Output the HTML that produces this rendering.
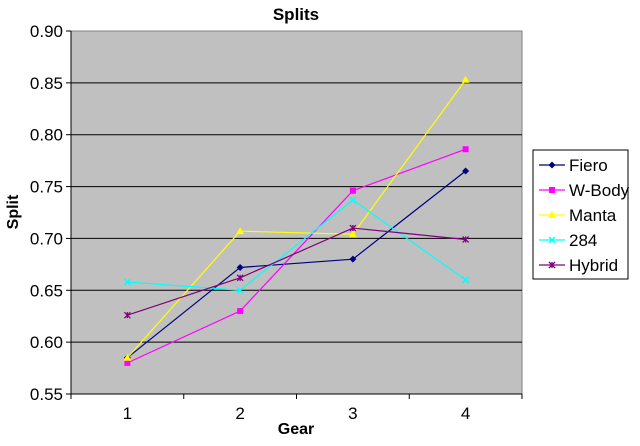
<!DOCTYPE html>
<html><head><meta charset="utf-8"><style>
body{margin:0;background:#fff;font-family:"Liberation Sans",Arial,sans-serif}
</style></head><body>
<svg id="chart" width="640" height="441" xmlns="http://www.w3.org/2000/svg" font-family="Liberation Sans, Arial, sans-serif">
<rect width="640" height="441" fill="#fff"/>
<text x="296" y="20" text-anchor="middle" font-size="17" font-weight="bold">Splits</text>
<rect x="71" y="31" width="451" height="363" fill="#c0c0c0" stroke="#808080"/>
<g id="grid"></g><g id="axes"></g><g id="series"></g>
<text x="296" y="434" text-anchor="middle" font-size="16" font-weight="bold">Gear</text>
<text transform="translate(18,212) rotate(-90)" text-anchor="middle" font-size="16" font-weight="bold">Split</text>
<g id="legend">
<rect x="533" y="150" width="95" height="129" fill="#fff" stroke="#000"/>
</g>
</svg>
<script>
const categories=["1","2","3","4"];
const yTicks=[0.55,0.60,0.65,0.70,0.75,0.80,0.85,0.90];
const seriesNames=["Fiero","W-Body","Manta","284","Hybrid"];
const fieroValues=[0.585,0.672,0.680,0.765];
const wbodyValues=[0.580,0.630,0.746,0.786];
const mantaValues=[0.585,0.707,0.704,0.853];
const v284Values=[0.658,0.650,0.737,0.660];
const hybridValues=[0.626,0.662,0.710,0.699];
const colors=["#000080","#ff00ff","#ffff00","#00ffff","#800080"];
const markers=["diamond","square","triangle","x","star"];
const allSeries=[fieroValues,wbodyValues,mantaValues,v284Values,hybridValues];
const L=71,R=522,T=31,B=394,ymin=0.55,ymax=0.90;
const xs=i=>L+(i+0.5)*(R-L)/categories.length;
const ys=v=>B-(v-ymin)/(ymax-ymin)*(B-T);
const NS="http://www.w3.org/2000/svg";
function mk(tag,attrs,parent){const e=document.createElementNS(NS,tag);for(const k in attrs)e.setAttribute(k,attrs[k]);parent.appendChild(e);return e;}
const grid=document.getElementById('grid'),axes=document.getElementById('axes'),ser=document.getElementById('series'),leg=document.getElementById('legend');
yTicks.forEach(t=>{const y=ys(t);
 if(t>ymin&&t<ymax){const g=mk('line',{x1:L,x2:R,y1:y,y2:y,stroke:'#000','stroke-width':1},grid);
 
 }
 mk('line',{x1:L-5,x2:L,y1:y,y2:y,stroke:'#000'},axes);
 const tx=mk('text',{x:L-8,y:y+6,'text-anchor':'end','font-size':17},axes);tx.textContent=t.toFixed(2);
 
 
});
mk('line',{x1:L,x2:L,y1:T,y2:B,stroke:'#000'},axes);
mk('line',{x1:L,x2:R,y1:B,y2:B,stroke:'#000'},axes);
for(let i=0;i<=categories.length;i++){const x=L+i*(R-L)/categories.length;mk('line',{x1:x,x2:x,y1:B,y2:B+5,stroke:'#000'},axes);}
categories.forEach((c,i)=>{const tx=mk('text',{x:xs(i),y:B+25,'text-anchor':'middle','font-size':17},axes);tx.textContent=c;
 
 });
function marker(kind,x,y,col,p){
 if(kind==='diamond')mk('polygon',{points:`${x},${y-3.5} ${x+3.5},${y} ${x},${y+3.5} ${x-3.5},${y}`,fill:col},p);
 else if(kind==='square')mk('rect',{x:x-3,y:y-3,width:6,height:6,fill:col},p);
 else if(kind==='triangle')mk('polygon',{points:`${x},${y-4} ${x+4},${y+3} ${x-4},${y+3}`,fill:col},p);
 else if(kind==='x'){mk('path',{d:`M${x-3},${y-3}L${x+3},${y+3}M${x-3},${y+3}L${x+3},${y-3}`,stroke:col,'stroke-width':1.5},p);}
 else {mk('path',{d:`M${x-3},${y-3}L${x+3},${y+3}M${x-3},${y+3}L${x+3},${y-3}M${x},${y-3}L${x},${y+3}`,stroke:col,'stroke-width':1.3},p);}
}
allSeries.forEach((vals,s)=>{
 const g=mk('g',{},ser);
 
 
 mk('polyline',{points:vals.map((v,i)=>xs(i)+','+ys(v)).join(' '),fill:'none',stroke:colors[s],'stroke-width':1.2},g);
 vals.forEach((v,i)=>marker(markers[s],xs(i),ys(v),colors[s],g));
 const ly=165+s*25;
 const le=mk('g',{},leg);
 
 
 mk('line',{x1:539,x2:565,y1:ly,y2:ly,stroke:colors[s],'stroke-width':1.2},le);
 marker(markers[s],552,ly,colors[s],le);
 const t=mk('text',{x:569,y:ly+6,'font-size':17},le);t.textContent=seriesNames[s];
});
</script>
</body></html>
